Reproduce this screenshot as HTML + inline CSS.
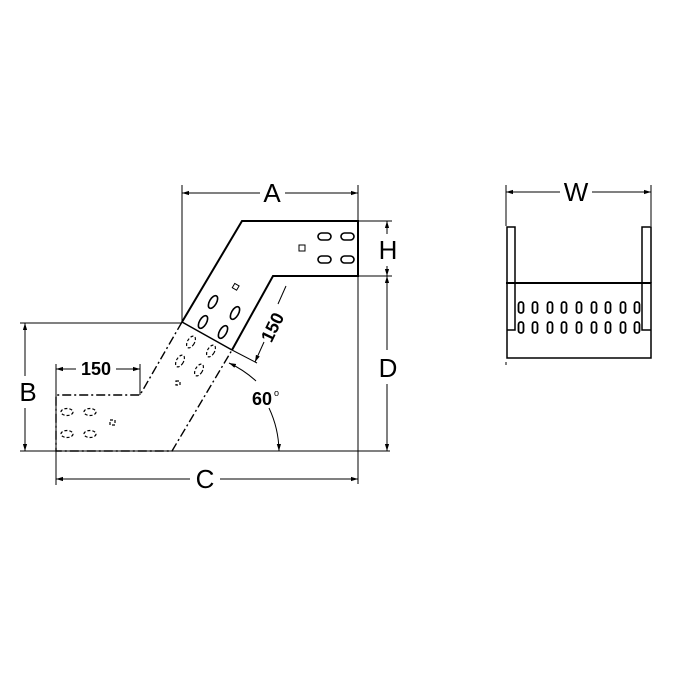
<!DOCTYPE html>
<html><head><style>
html,body{margin:0;padding:0;background:#fff;}
svg{display:block;}
text{font-family:"Liberation Sans",Arial,sans-serif;fill:#000;}
</style></head><body>
<svg width="680" height="680" viewBox="0 0 680 680" xmlns="http://www.w3.org/2000/svg">
<defs>
<marker id="ar" viewBox="0 0 10 10" refX="10" refY="5" markerWidth="7" markerHeight="7" orient="auto-start-reverse"><path d="M0,2 L10,5 L0,8 z" fill="#000"/></marker>
</defs>
<g stroke="#000" fill="none">
<g stroke-width="1">
<line x1="182" y1="185" x2="182" y2="323"/>
<line x1="358" y1="185" x2="358" y2="484"/>
<line x1="20" y1="323" x2="182" y2="323"/>
<line x1="20" y1="451" x2="390" y2="451"/>
<line x1="358" y1="221" x2="392" y2="221"/>
<line x1="358" y1="276" x2="392" y2="276"/>
<line x1="56" y1="364" x2="56" y2="485"/>
<line x1="140" y1="364" x2="140" y2="395"/>
<line x1="232" y1="350" x2="257" y2="363"/>
</g>
<g stroke-width="1" marker-start="url(#ar)" marker-end="url(#ar)">
<line x1="182" y1="193" x2="260" y2="193" marker-end="none"/>
<line x1="285" y1="193" x2="358" y2="193" marker-start="none"/>
<line x1="25" y1="323" x2="25" y2="376" marker-end="none"/>
<line x1="25" y1="408" x2="25" y2="451" marker-start="none"/>
<line x1="387" y1="221" x2="387" y2="234" marker-end="none"/>
<line x1="387" y1="266" x2="387" y2="276" marker-start="none"/>
<line x1="387" y1="276" x2="387" y2="350" marker-end="none"/>
<line x1="387" y1="384" x2="387" y2="451" marker-start="none"/>
<line x1="56" y1="479" x2="190" y2="479" marker-end="none"/>
<line x1="220" y1="479" x2="358" y2="479" marker-start="none"/>
<line x1="56" y1="369" x2="76" y2="369" marker-end="none"/>
<line x1="116" y1="369" x2="140" y2="369" marker-start="none"/>
<line x1="286" y1="286" x2="278" y2="304" marker-start="none" marker-end="none"/>
<line x1="264" y1="342" x2="255" y2="362" marker-start="none"/>
<path d="M229,363 A105,105 0 0 1 256,381" marker-start="url(#ar)" marker-end="none"/>
<path d="M269,408 A105,105 0 0 1 279,451" marker-start="none"/>
</g>
<g stroke-width="2">
<polyline points="182,322 242,221 358,221 358,276 273,276 232,350"/>
</g>
<line x1="182" y1="322" x2="232" y2="350" stroke-width="1.5"/>
<g stroke-width="1.4" stroke-dasharray="9,3,2,3">
<polyline points="182,322 140,395 56,395 56,451 172,451 232,350"/>
</g>
<g stroke-width="1.6">
<rect x="318" y="233" width="13" height="7" rx="3.5"/>
<rect x="341" y="233" width="13" height="7" rx="3.5"/>
<rect x="318" y="256" width="13" height="7" rx="3.5"/>
<rect x="341" y="256" width="13" height="7" rx="3.5"/>
<rect x="299" y="245" width="6" height="6" stroke-width="1"/>
<ellipse cx="213" cy="302" rx="3.5" ry="7" transform="rotate(30 213 302)"/>
<ellipse cx="235" cy="313" rx="3.5" ry="7" transform="rotate(30 235 313)"/>
<ellipse cx="203" cy="322" rx="3.5" ry="7" transform="rotate(30 203 322)"/>
<ellipse cx="223" cy="332" rx="3.5" ry="7" transform="rotate(30 223 332)"/>
<rect x="233" y="284" width="5" height="5" stroke-width="1" transform="rotate(30 235 287)"/>
</g>
<g stroke-width="1.2" stroke-dasharray="3,2">
<ellipse cx="191" cy="342" rx="3.5" ry="6.5" transform="rotate(30 191 342)"/>
<ellipse cx="211" cy="351" rx="3.5" ry="6.5" transform="rotate(30 211 351)"/>
<ellipse cx="180" cy="361" rx="3.5" ry="6.5" transform="rotate(30 180 361)"/>
<ellipse cx="199" cy="370" rx="3.5" ry="6.5" transform="rotate(30 199 370)"/>
<rect x="176" y="381" width="4" height="4"/>
<ellipse cx="67" cy="412" rx="6" ry="3.5"/>
<ellipse cx="90" cy="412" rx="6" ry="3.5"/>
<ellipse cx="67" cy="434" rx="6" ry="3.5"/>
<ellipse cx="90" cy="434" rx="6" ry="3.5"/>
<rect x="110" y="420" width="5" height="5"/>
</g>
<g stroke-width="1">
<line x1="506" y1="185" x2="506" y2="226"/>
<line x1="651" y1="185" x2="651" y2="226"/>
<line x1="506" y1="192" x2="560" y2="192" marker-start="url(#ar)"/>
<line x1="592" y1="192" x2="651" y2="192" marker-end="url(#ar)"/>
</g>
<g stroke-width="1.5">
<rect x="507" y="283" width="144" height="75"/>
<polyline points="507,330 515,330 515,227 507,227 507,283"/>
<polyline points="651,330 642,330 642,227 651,227 651,283"/>
<line x1="506" y1="283" x2="651" y2="283" stroke-width="2"/>
<g stroke-width="1.8">
<rect x="518.5" y="302" width="5" height="11" rx="2.5"/><rect x="532.5" y="302" width="5" height="11" rx="2.5"/><rect x="547.5" y="302" width="5" height="11" rx="2.5"/><rect x="561.5" y="302" width="5" height="11" rx="2.5"/><rect x="576.5" y="302" width="5" height="11" rx="2.5"/><rect x="591.5" y="302" width="5" height="11" rx="2.5"/><rect x="605.5" y="302" width="5" height="11" rx="2.5"/><rect x="620.5" y="302" width="5" height="11" rx="2.5"/><rect x="634.5" y="302" width="5" height="11" rx="2.5"/>
<rect x="518.5" y="322" width="5" height="11" rx="2.5"/><rect x="532.5" y="322" width="5" height="11" rx="2.5"/><rect x="547.5" y="322" width="5" height="11" rx="2.5"/><rect x="561.5" y="322" width="5" height="11" rx="2.5"/><rect x="576.5" y="322" width="5" height="11" rx="2.5"/><rect x="591.5" y="322" width="5" height="11" rx="2.5"/><rect x="605.5" y="322" width="5" height="11" rx="2.5"/><rect x="620.5" y="322" width="5" height="11" rx="2.5"/><rect x="634.5" y="322" width="5" height="11" rx="2.5"/>
</g>
</g>
<line x1="506" y1="362" x2="506" y2="365" stroke-width="1"/>
</g>
<g font-size="26">
<text x="272" y="202" text-anchor="middle">A</text>
<text x="28" y="401" text-anchor="middle">B</text>
<text x="205" y="488" text-anchor="middle">C</text>
<text x="388" y="377" text-anchor="middle">D</text>
<text x="388" y="259" text-anchor="middle">H</text>
<text x="576" y="201" text-anchor="middle">W</text>
</g>
<g font-size="18" font-weight="bold">
<text x="96" y="375" text-anchor="middle">150</text>
<text x="0" y="0" text-anchor="middle" transform="translate(278,330) rotate(-64)">150</text>
<text x="262" y="405" text-anchor="middle">60</text>
</g>
<text x="274" y="396" font-size="9">o</text>
</svg>
</body></html>
